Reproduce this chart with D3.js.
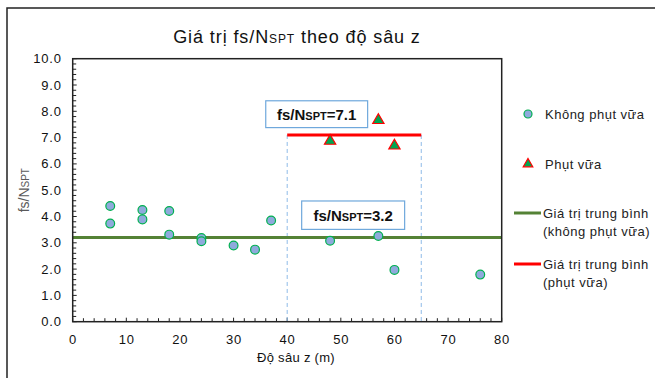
<!DOCTYPE html>
<html>
<head>
<meta charset="utf-8">
<script src="https://cdn.jsdelivr.net/npm/d3@7"></script>
<style>
  body { margin: 0; background: #fff; }
  text { font-family: "Liberation Sans", Arial, sans-serif; }
</style>
</head>
<body>
<svg id="chart" width="655" height="378"></svg>
<script>
// depth z (m) and fs/NSPT, points without grouting
const depthNoGrout = [7, 7, 13, 13, 18, 18, 24, 24, 30, 34, 37, 48, 57, 60, 76];
const ratioNoGrout = [4.4, 3.73, 4.25, 3.89, 4.21, 3.31, 3.18, 3.06, 2.9, 2.74, 3.85, 3.08, 3.26, 1.97, 1.79];
// points with grouting
const depthGrout = [48, 57, 60];
const ratioGrout = [6.87, 7.66, 6.69];
// mean values
const meanNoGrout = 3.2;
const meanGrout = 7.1;
const groutRange = [40, 65];
const xTicks = [0, 10, 20, 30, 40, 50, 60, 70, 80];
const yTicks = [0, 1, 2, 3, 4, 5, 6, 7, 8, 9, 10];

const svg = d3.select("#chart");
const pLeft = 72.7, pRight = 501.7, pTop = 58.7, pBottom = 321.7;

const x = d3.scaleLinear().domain([0, 80]).range([pLeft, pRight]);
const y = d3.scaleLinear().domain([0, 10]).range([pBottom, pTop]);

// outer frame (cut by the picture edge)
svg.append("rect")
    .attr("x", 7).attr("y", 8)
    .attr("width", 700).attr("height", 400)
    .attr("fill", "none")
    .attr("stroke", "#222")
    .attr("stroke-width", 1.5);

// title
const title = svg.append("text")
    .attr("x", 297).attr("y", 43)
    .attr("text-anchor", "middle")
    .attr("font-size", 18)
    .attr("letter-spacing", 0.9)
    .attr("fill", "#111");
title.append("tspan").text("Giá trị fs/N");
title.append("tspan").attr("font-size", 12).text("SPT");
title.append("tspan").text(" theo độ sâu z");

// minor ticks inside the plot
const minorX = d3.range(0, 81, 2);
const minorY = d3.range(0, 10.01, 0.2);
svg.append("g").selectAll("line")
    .data(minorX)
    .join("line")
    .attr("x1", d => x(d)).attr("x2", d => x(d))
    .attr("y1", pBottom).attr("y2", d => pBottom - (d % 10 === 0 ? 4 : 3.5))
    .attr("stroke", "#222").attr("stroke-width", 1);
svg.append("g").selectAll("line")
    .data(minorY)
    .join("line")
    .attr("x1", pLeft).attr("x2", d => pLeft + (Math.abs(d - Math.round(d)) < 1e-6 ? 4 : 3.5))
    .attr("y1", d => y(d)).attr("y2", d => y(d))
    .attr("stroke", "#222").attr("stroke-width", 1);

// axes labels
svg.append("g").selectAll("text")
    .data(xTicks)
    .join("text")
    .attr("x", d => x(d) + 0.4).attr("y", 344)
    .attr("text-anchor", "middle")
    .attr("font-size", 13)
    .attr("letter-spacing", 0.8)
    .attr("fill", "#111")
    .text(d => d);
svg.append("g").selectAll("text")
    .data(yTicks)
    .join("text")
    .attr("x", 61.7).attr("y", d => y(d) + 4.5)
    .attr("text-anchor", "end")
    .attr("font-size", 13)
    .attr("letter-spacing", 0.8)
    .attr("fill", "#111")
    .text(d => d.toFixed(1));

svg.append("text")
    .attr("x", 296).attr("y", 362)
    .attr("text-anchor", "middle")
    .attr("font-size", 13)
    .attr("letter-spacing", 0.3)
    .attr("fill", "#111")
    .text("Độ sâu z (m)");

const yLabel = svg.append("text")
    .attr("transform", `translate(29,${(pTop + pBottom) / 2}) rotate(-90)`)
    .attr("text-anchor", "middle")
    .attr("font-size", 14)
    .attr("fill", "#595959");
yLabel.append("tspan").text("fs/N");
yLabel.append("tspan").attr("font-size", 10).text("SPT");

// dashed range lines for grouted zone
svg.append("g").selectAll("line")
    .data(groutRange)
    .join("line")
    .attr("x1", d => x(d)).attr("x2", d => x(d))
    .attr("y1", y(meanGrout)).attr("y2", pBottom)
    .attr("stroke", "#8fbbe8")
    .attr("stroke-width", 1)
    .attr("stroke-dasharray", "4,3");

// mean lines
svg.append("line")
    .attr("x1", x(0)).attr("x2", x(80))
    .attr("y1", y(meanNoGrout)).attr("y2", y(meanNoGrout))
    .attr("stroke", "#548235").attr("stroke-width", 3);
svg.append("line")
    .attr("x1", x(groutRange[0])).attr("x2", x(groutRange[1]))
    .attr("y1", y(meanGrout)).attr("y2", y(meanGrout))
    .attr("stroke", "#ff0000").attr("stroke-width", 3);

// plot border
svg.append("rect")
    .attr("x", pLeft).attr("y", pTop)
    .attr("width", pRight - pLeft).attr("height", pBottom - pTop)
    .attr("fill", "none")
    .attr("stroke", "#222")
    .attr("stroke-width", 1.5);

// points
svg.append("g").selectAll("circle")
    .data(depthNoGrout.map((d, i) => [d, ratioNoGrout[i]]))
    .join("circle")
    .attr("cx", d => x(d[0])).attr("cy", d => y(d[1]))
    .attr("r", 4.4)
    .attr("fill", "#8faadc")
    .attr("stroke", "#00b050")
    .attr("stroke-width", 1.2);

const tri = d3.symbol().type(d3.symbolTriangle).size(55);
svg.append("g").selectAll("path")
    .data(depthGrout.map((d, i) => [d, ratioGrout[i]]))
    .join("path")
    .attr("d", tri)
    .attr("transform", d => `translate(${x(d[0])},${y(d[1])})`)
    .attr("fill", "#00a651")
    .attr("stroke", "#ff0000")
    .attr("stroke-width", 1.2);

// value boxes
function valueBox(x0, y0, x1, y1, val) {
    svg.append("rect")
        .attr("x", x(x0)).attr("y", y(y0))
        .attr("width", x(x1) - x(x0)).attr("height", y(y1) - y(y0))
        .attr("fill", "#fff")
        .attr("stroke", "#6fa8dc")
        .attr("stroke-width", 1.2);
    const t = svg.append("text")
        .attr("x", (x(x0) + x(x1)) / 2)
        .attr("y", (y(y0) + y(y1)) / 2 + 5.5)
        .attr("text-anchor", "middle")
        .attr("font-size", 15)
        .attr("font-weight", "bold")
        .attr("fill", "#111");
    t.append("tspan").text("fs/N");
    t.append("tspan").attr("font-size", 11).text("SPT");
    t.append("tspan").text("=" + val.toFixed(1));
}
valueBox(36.0, 8.4, 55.0, 7.38, meanGrout);
valueBox(42.7, 4.59, 61.9, 3.51, meanNoGrout);

// legend
const lg = svg.append("g");
lg.append("circle").attr("cx", 528).attr("cy", 114).attr("r", 4)
    .attr("fill", "#8faadc").attr("stroke", "#00b050").attr("stroke-width", 1.2);
lg.append("path").attr("d", d3.symbol().type(d3.symbolTriangle).size(40))
    .attr("transform", "translate(528,164)")
    .attr("fill", "#00a651").attr("stroke", "#ff0000").attr("stroke-width", 1.2);
lg.append("line").attr("x1", 514).attr("x2", 541).attr("y1", 213).attr("y2", 213)
    .attr("stroke", "#548235").attr("stroke-width", 3);
lg.append("line").attr("x1", 514).attr("x2", 541).attr("y1", 264).attr("y2", 264)
    .attr("stroke", "#ff0000").attr("stroke-width", 3);
const legendText = [
    ["Không phụt vữa", 119],
    ["Phụt vữa", 169],
    ["Giá trị trung bình", 218],
    ["(không phụt vữa)", 236],
    ["Giá trị trung bình", 269],
    ["(phụt vữa)", 287]
];
lg.selectAll("text.lt")
    .data(legendText)
    .join("text")
    .attr("class", "lt")
    .attr("x", d => d[1] > 200 ? 543 : 545)
    .attr("y", d => d[1])
    .attr("font-size", 13)
    .attr("letter-spacing", 0.5)
    .attr("fill", "#222")
    .text(d => d[0]);
</script>
</body>
</html>
